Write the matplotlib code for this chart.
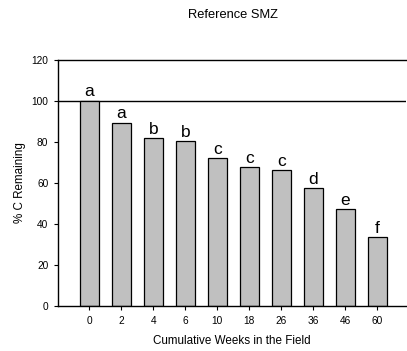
import matplotlib
matplotlib.use('Agg')
import matplotlib.pyplot as plt
import numpy as np

weeks = ['0', '2', '4', '6', '10', '18', '26', '36', '46', '60']
c_remaining = [100, 89.3, 81.7, 80.2, 71.9, 67.6, 66.1, 57.3, 47.2, 33.6]
letters = ['a', 'a', 'b', 'b', 'c', 'c', 'c', 'd', 'e', 'f']

plt.rcParams['font.family'] = ['Liberation Sans', 'DejaVu Sans']

fig = plt.figure(figsize=(4.07, 3.51), dpi=100)
ax = fig.add_axes([58/407, 1 - 306/351, (406-58)/407, (306-59.6)/351])

x = np.arange(len(weeks))
ax.bar(x, c_remaining, width=0.6, color='#c0c0c0', edgecolor='black', linewidth=0.9, zorder=2)
for xi, v, l in zip(x, c_remaining, letters):
    ax.text(xi, v + 0.6, l, ha='center', va='bottom', fontsize=12.5)

ax.axhline(100, color='black', linewidth=1, zorder=1)
ax.set_xlim(-0.98, 9.9)
ax.set_ylim(0, 120)
ax.set_yticks(range(0, 121, 20))
ax.set_xticks(x)
ax.set_xticklabels(weeks)
ax.spines['right'].set_visible(False)
ax.tick_params(labelsize=7.3, length=3, width=0.8, pad=4)
for s in ['left', 'bottom', 'top']:
    ax.spines[s].set_linewidth(1)

ax.set_xlabel('Cumulative Weeks in the Field', fontsize=8.4, labelpad=7)
ax.set_ylabel('% C Remaining', fontsize=8.4, labelpad=4)
fig.text(233/407, 1 - 15/351, 'Reference SMZ', ha='center', va='center', fontsize=9.3)

fig.savefig('out.png', dpi=100)
